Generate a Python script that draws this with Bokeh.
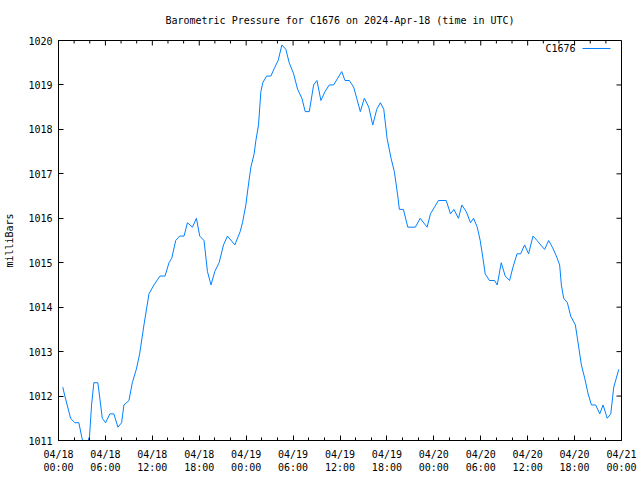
from bokeh.plotting import figure
from bokeh.models import FixedTicker, Range1d, Label
from bokeh.embed import file_html
from bokeh.resources import INLINE

# hours since 2024-04-18 00:00 UTC
hours = [0.55, 0.81, 1.11, 1.54, 2.09, 2.60, 2.95, 3.20, 3.65, 3.97,
         4.23, 4.52, 5.03, 5.25, 5.60, 6.02, 6.57, 7.08, 7.60, 8.07,
         8.37, 9.01, 9.44, 9.95, 10.38, 10.93, 11.57, 12.21, 12.98, 13.62,
         14.13, 14.48, 14.99, 15.50, 16.05, 16.49, 17.13, 17.64, 18.06, 18.61,
         19.05, 19.51, 19.98, 20.54, 21.10, 21.61, 22.55, 23.23, 23.53, 23.96,
         24.25, 24.60, 25.02, 25.24, 25.58, 25.88, 26.13, 26.61, 27.16, 27.67,
         28.09, 28.57, 29.08, 29.50, 30.07, 30.58, 31.13, 31.55, 32.07, 32.63,
         33.05, 33.56, 34.08, 34.63, 35.19, 35.70, 36.22, 36.64, 37.19, 37.75,
         38.14, 38.60, 39.11, 39.68, 40.19, 40.70, 41.16, 41.60, 42.02, 42.53,
         42.95, 43.39, 43.59, 44.11, 44.67, 45.64, 46.25, 47.14, 47.57, 48.08,
         48.59, 49.58, 50.13, 50.56, 51.15, 51.59, 52.14, 52.69, 53.08, 53.55,
         53.93, 54.28, 54.57, 55.12, 55.76, 56.11, 56.62, 57.13, 57.69, 58.12,
         58.64, 59.10, 59.61, 60.12, 60.68, 61.20, 61.66, 62.17, 62.68, 63.16,
         63.67, 64.09, 64.31, 64.60, 65.08, 65.50, 66.10, 66.53, 66.87, 67.30,
         67.73, 68.15, 68.70, 69.22, 69.65, 70.17, 70.63, 71.01, 71.65]

pressure = [1012.2, 1012.0, 1011.8, 1011.5, 1011.4, 1011.4, 1011.1, 1010.9, 1010.9, 1011.1,
            1011.8, 1012.3, 1012.3, 1012.0, 1011.5, 1011.4, 1011.6, 1011.6, 1011.3, 1011.4,
            1011.8, 1011.9, 1012.3, 1012.6, 1012.95, 1013.6, 1014.3, 1014.5, 1014.7, 1014.7,
            1015.0, 1015.1, 1015.5, 1015.6, 1015.6, 1015.9, 1015.8, 1016.0, 1015.6, 1015.5,
            1014.8, 1014.5, 1014.8, 1015.0, 1015.4, 1015.6, 1015.4, 1015.7, 1015.9, 1016.3,
            1016.7, 1017.15, 1017.45, 1017.75, 1018.1, 1018.85, 1019.05, 1019.2, 1019.2, 1019.4,
            1019.55, 1019.9, 1019.8, 1019.5, 1019.25, 1018.9, 1018.7, 1018.4, 1018.4, 1019.0,
            1019.1, 1018.65, 1018.85, 1019.0, 1019.0, 1019.15, 1019.3, 1019.1, 1019.1, 1018.95,
            1018.7, 1018.4, 1018.7, 1018.5, 1018.1, 1018.45, 1018.6, 1018.45, 1017.8, 1017.35,
            1017.05, 1016.5, 1016.2, 1016.2, 1015.8, 1015.8, 1016.0, 1015.8, 1016.1, 1016.25,
            1016.4, 1016.4, 1016.1, 1016.2, 1016.0, 1016.3, 1016.15, 1015.9, 1016.0, 1015.8,
            1015.5, 1015.1, 1014.75, 1014.6, 1014.6, 1014.5, 1015.0, 1014.7, 1014.6, 1014.9,
            1015.2, 1015.2, 1015.4, 1015.2, 1015.6, 1015.5, 1015.4, 1015.3, 1015.5, 1015.35,
            1015.15, 1014.95, 1014.5, 1014.2, 1014.1, 1013.8, 1013.6, 1013.1, 1012.7, 1012.4,
            1012.05, 1011.8, 1011.8, 1011.6, 1011.8, 1011.5, 1011.6, 1012.2, 1012.6]

x_ticks = [0, 6, 12, 18, 24, 30, 36, 42, 48, 54, 60, 66, 72]
x_minor_ticks = [h for h in range(0, 73, 2) if h % 6 != 0]
x_tick_labels = ["04/18\n00:00", "04/18\n06:00", "04/18\n12:00", "04/18\n18:00",
                 "04/19\n00:00", "04/19\n06:00", "04/19\n12:00", "04/19\n18:00",
                 "04/20\n00:00", "04/20\n06:00", "04/20\n12:00", "04/20\n18:00",
                 "04/21\n00:00"]
y_ticks = [1011, 1012, 1013, 1014, 1015, 1016, 1017, 1018, 1019, 1020]
series_name = "C1676"
title_text = "Barometric Pressure for C1676 on 2024-Apr-18 (time in UTC)"
y_label = "milliBars"

FONT = "DejaVu Sans Mono"
FS = "10px"
LINE_COLOR = "#0080ff"

X0, X1 = x_ticks[0], x_ticks[-1]
Y0, Y1 = y_ticks[0], y_ticks[-1]
W, H = 640, 480
ML, MR, MT, MB = 58, 19, 40, 40
px_x = (X1 - X0) / (W - ML - MR)   # data units per pixel, x
px_y = (Y1 - Y0) / (H - MT - MB)   # data units per pixel, y

p = figure(width=W, height=H, output_backend="svg", toolbar_location=None,
           x_range=Range1d(X0, X1), y_range=Range1d(Y0, Y1),
           min_border_left=ML, min_border_right=MR, min_border_top=MT,
           min_border_bottom=MB, title=title_text)

p.background_fill_color = "white"
p.border_fill_color = "white"
p.outline_line_color = "black"
p.outline_line_width = 1
p.xgrid.visible = False
p.ygrid.visible = False

p.title.text_font = FONT
p.title.text_font_size = FS
p.title.text_font_style = "normal"
p.title.align = "center"
p.title.text_color = "black"
p.title.vertical_align = "top"
p.title.standoff = 25

xt = FixedTicker(ticks=x_ticks, minor_ticks=x_minor_ticks)
yt = FixedTicker(ticks=y_ticks, minor_ticks=[])

MAJ, MIN = 5, 3


def style_axis(ax):
    ax.axis_line_color = "black"
    ax.major_tick_line_color = "black"
    ax.minor_tick_line_color = "black"
    ax.major_tick_in = MAJ
    ax.major_tick_out = 0
    ax.minor_tick_in = MIN
    ax.minor_tick_out = 0
    ax.major_label_text_font = FONT
    ax.major_label_text_font_size = FS
    ax.major_label_text_color = "black"


xa = p.xaxis[0]
xa.ticker = xt
style_axis(xa)
xa.major_label_overrides = {t: lab for t, lab in zip(x_ticks, x_tick_labels)}
xa.major_label_standoff = 8

ya = p.yaxis[0]
ya.ticker = yt
style_axis(ya)
ya.major_label_overrides = {t: str(t) for t in y_ticks}
ya.major_label_standoff = 6
ya.axis_label = y_label
ya.axis_label_text_font = FONT
ya.axis_label_text_font_size = FS
ya.axis_label_text_font_style = "normal"
ya.axis_label_text_color = "black"
ya.axis_label_standoff = 10

# mirrored ticks on the top and right borders (gnuplot style)
p.segment(x0=x_ticks, x1=x_ticks, y0=[Y1] * len(x_ticks),
          y1=[Y1 - MAJ * px_y] * len(x_ticks), line_color="black", line_width=1)
p.segment(x0=x_minor_ticks, x1=x_minor_ticks, y0=[Y1] * len(x_minor_ticks),
          y1=[Y1 - MIN * px_y] * len(x_minor_ticks), line_color="black", line_width=1)
p.segment(x0=[X1] * len(y_ticks), x1=[X1 - MAJ * px_x] * len(y_ticks),
          y0=y_ticks, y1=y_ticks, line_color="black", line_width=1)

p.line(hours, pressure, line_color=LINE_COLOR, line_width=1)

# key (text then sample line), top right as in gnuplot
key_y = Y1 - 8 * px_y
p.add_layout(Label(x=X1 - 46 * px_x, y=key_y, text=series_name, text_align="right",
                   text_baseline="middle", text_font=FONT, text_font_size=FS,
                   text_color="black"))
p.line([X1 - 39 * px_x, X1 - 11 * px_x], [key_y, key_y], line_color=LINE_COLOR, line_width=1)

open("out.html", "w").write(file_html(p, INLINE))
